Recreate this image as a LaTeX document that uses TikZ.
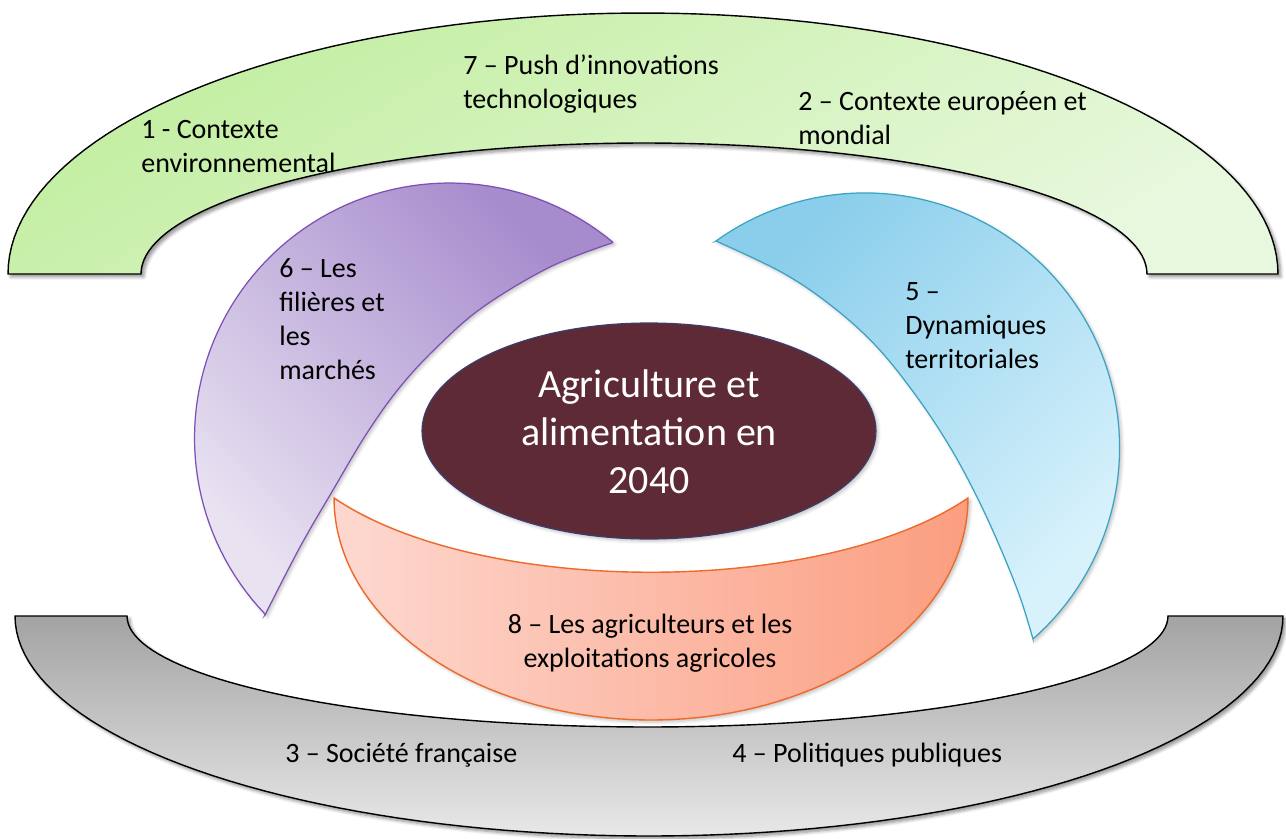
\documentclass[tikz,border=0pt]{standalone}
\usepackage{fontspec}
\setmainfont{Carlito}
\usetikzlibrary{shapes.geometric,shadows.blur}
\definecolor{gA}{HTML}{C2EEA0}
\definecolor{gB}{HTML}{E8F8DE}
\definecolor{grA}{HTML}{A3A3A3}
\definecolor{grB}{HTML}{E8E8E8}
\definecolor{pA}{HTML}{A68BCD}
\definecolor{pB}{HTML}{E8E2F1}
\definecolor{pL}{HTML}{7E4FB5}
\definecolor{bA}{HTML}{8ACEEB}
\definecolor{bB}{HTML}{D8F2FC}
\definecolor{bL}{HTML}{3AA3C3}
\definecolor{oA}{HTML}{FDD8D0}
\definecolor{oB}{HTML}{FB9E80}
\definecolor{oL}{HTML}{EE6A2A}
\definecolor{mA}{HTML}{5E2A36}
\definecolor{mL}{HTML}{3C3D6B}
\begin{document}
\begin{tikzpicture}[x=0.02cm,y=-0.02cm,
  shd/.style={blur shadow={shadow xshift=1.6pt,shadow yshift=-1.6pt,shadow blur steps=6,shadow opacity=45}},
  lshd/.style={blur shadow={shadow xshift=1.2pt,shadow yshift=-1.2pt,shadow blur steps=5,shadow opacity=25}},
  lbl/.style={font=\fontsize{15.93}{19.35}\selectfont, inner sep=0pt, align=left, anchor=base west},
  big/.style={font=\fontsize{22.76}{27.3}\selectfont, text=white, inner sep=0pt, align=center, anchor=base},
]
\useasboundingbox (0,0) rectangle (1286,839);
% green arch
\path[shd, draw=black, line width=0.8pt, top color=gA, bottom color=gB, shading angle=30]
  plot[domain=180:0,samples=90] ({643+635*cos(\x)},{274-261*sin(\x)})
  -- plot[domain=0:180,samples=90] ({644+503*cos(\x)},{274-131*sin(\x)}) -- cycle;
% grey arch
\path[shd, draw=black, line width=0.8pt, top color=grA, bottom color=grB]
  plot[domain=180:360,samples=90] ({649+634*cos(\x)},{616-220*sin(\x)})
  -- plot[domain=360:180,samples=90] ({647.5+520.5*cos(\x)},{616-111*sin(\x)}) -- cycle;
% purple
\path[lshd, draw=pL, line width=0.7pt, top color=pB, bottom color=pA, shading angle=135]
  plot[domain=50.2:223.8,samples=80] ({449.5+255*cos(\x)},{438-255*sin(\x)})
  -- plot[smooth,tension=0.6] coordinates {(265,615) (300,547) (333,490) (367,433) (400,387) (437,347) (483,307) (550,267) (612,243)} -- cycle;
% blue
\path[lshd, draw=bL, line width=0.7pt, top color=bA, bottom color=bB, shading angle=45]
  plot[domain=125.8:-48.7,samples=80] ({864.9+254.7*cos(\x)},{447.6-254.7*sin(\x)})
  -- plot[smooth,tension=0.6] coordinates {(1033,639) (1020,597) (1000,547) (977,497) (950,447) (917,397) (877,347) (833,307) (783,273) (716,241)} -- cycle;
% orange
\path[lshd, draw=oL, line width=0.8pt, left color=oA, right color=oB]
  plot[domain=180:360,samples=80] ({651+317*cos(\x)},{498-222*sin(\x)})
  .. controls (822,597) and (480,597) .. (334,498) -- cycle;
% centre
\node[ellipse, draw=mL, line width=0.7pt, fill=mA, minimum width=9.08cm, minimum height=4.32cm, inner sep=0pt, lshd] (core) at (649,431) {};
\node[big] (coretxt) at (649,493) {Agriculture et\\alimentation en\\2040};
% labels
\node[lbl] (t1) at (141,172) {1 - Contexte\\environnemental};
\node[lbl] (t7) at (463,108) {7 – Push d’innovations\\technologiques};
\node[lbl] (t2) at (798,144) {2 – Contexte européen et\\mondial};
\node[lbl] (t6) at (279,379) {6 – Les\\filières et\\les\\marchés};
\node[lbl] (t5) at (905,368) {5 –\\Dynamiques\\territoriales};
\node[lbl, align=center, anchor=base] (t8) at (650,667) {8 – Les agriculteurs et les\\exploitations agricoles};
\node[lbl] (t3) at (285,762) {3 – Société française};
\node[lbl] (t4) at (732,762) {4 – Politiques publiques};
\end{tikzpicture}
\end{document}
